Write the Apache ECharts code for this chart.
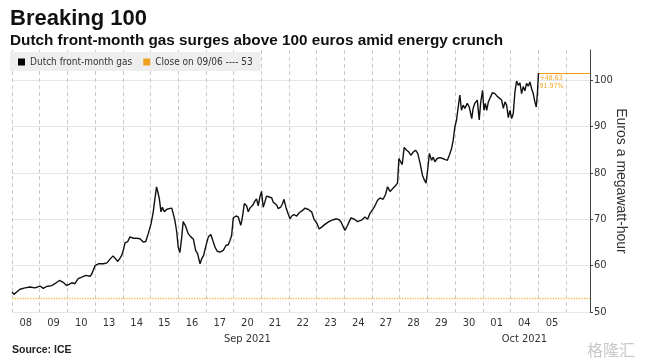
<!DOCTYPE html>
<html>
<head>
<meta charset="utf-8">
<script src="https://cdn.jsdelivr.net/npm/echarts@6/dist/echarts.min.js"></script>
<style>
html,body{margin:0;padding:0;background:#fff;}
#chart{width:648px;height:362px;}
</style>
</head>
<body>
<div id="chart"></div>
<script>
// ---- data ----
const dayLabels = ['08','09','10','13','14','15','16','17','20','21','22','23','24','27','28','29','30','01','04','05'];
const monthIndex = [8, 18];
const monthNames = ['Sep 2021', 'Oct 2021'];
// position in trading days since the start of 08 Sep
const tDay = [0.00,0.07,0.17,0.29,0.47,0.65,0.83,1.01,1.13,1.25,1.43,1.55,1.71,1.85,1.97,2.03,2.16,2.27,2.39,2.52,2.57,2.67,2.82,2.88,3.00,3.12,3.30,3.43,3.54,3.65,3.72,3.82,3.90,3.96,4.02,4.08,4.18,4.26,4.38,4.50,4.62,4.74,4.83,4.92,5.02,5.10,5.16,5.22,5.28,5.32,5.38,5.43,5.50,5.58,5.67,5.77,5.82,5.88,5.95,6.00,6.06,6.13,6.18,6.27,6.36,6.46,6.55,6.63,6.70,6.79,6.85,6.92,6.99,7.09,7.18,7.25,7.33,7.41,7.51,7.63,7.73,7.81,7.87,7.93,7.99,8.09,8.17,8.26,8.31,8.39,8.47,8.53,8.59,8.69,8.77,8.83,8.89,8.95,9.01,9.07,9.13,9.19,9.29,9.38,9.43,9.49,9.56,9.61,9.70,9.77,9.82,9.89,9.97,10.04,10.10,10.18,10.28,10.37,10.49,10.58,10.70,10.82,10.90,10.97,11.02,11.09,11.18,11.30,11.44,11.60,11.72,11.81,11.88,11.92,12.02,12.10,12.24,12.36,12.48,12.62,12.74,12.84,12.92,12.99,13.08,13.20,13.29,13.40,13.49,13.56,13.65,13.73,13.83,13.92,13.97,14.04,14.09,14.16,14.25,14.33,14.40,14.49,14.57,14.65,14.73,14.82,14.88,14.95,15.00,15.07,15.15,15.21,15.27,15.35,15.45,15.55,15.63,15.72,15.79,15.87,15.93,15.99,16.05,16.11,16.17,16.23,16.29,16.35,16.44,16.51,16.60,16.65,16.71,16.80,16.87,16.92,16.99,17.04,17.09,17.14,17.20,17.28,17.35,17.44,17.52,17.59,17.68,17.74,17.80,17.86,17.92,17.98,18.04,18.10,18.16,18.22,18.28,18.34,18.40,18.46,18.52,18.58,18.64,18.70,18.76,18.82,18.88,18.93,18.97,19.01];
const price = [54.3,53.8,54.3,54.9,55.2,55.4,55.2,55.6,55.1,55.5,55.7,56.1,56.8,56.4,55.7,55.5,56.3,56.1,57.2,57.5,57.2,57.9,57.7,58.2,60.0,60.4,60.4,60.6,61.4,62.1,61.7,60.9,61.6,62.2,63.3,64.9,65.2,66.2,65.9,65.9,65.8,65.1,65.2,66.9,69.0,71.6,74.4,77.0,75.5,74.4,71.6,72.6,71.6,72.1,72.3,72.4,72.3,69.8,67.2,64.0,62.8,66.2,69.5,68.5,66.9,66.2,65.7,63.3,62.6,60.4,61.5,62.2,64.0,66.2,66.7,65.4,64.0,63.1,62.9,63.3,64.4,64.5,65.4,66.5,70.3,70.7,70.5,68.7,70.1,73.4,72.9,71.6,72.4,73.0,73.9,74.4,72.9,74.8,76.0,72.6,73.7,75.0,74.8,74.6,73.7,74.1,73.0,72.3,72.6,73.4,74.3,72.6,71.2,70.1,70.7,71.0,70.7,71.4,71.9,72.4,72.1,71.6,70.1,69.8,69.0,67.9,68.3,68.9,69.5,69.9,70.1,69.9,69.4,69.8,67.6,68.5,70.3,70.0,69.5,69.8,70.5,70.0,71.2,70.8,72.6,74.1,74.6,74.3,75.4,77.0,76.0,76.5,77.1,77.8,83.1,83.4,81.8,85.5,84.9,84.5,83.8,84.5,84.9,84.2,82.2,79.5,78.6,77.8,80.2,84.2,82.7,83.4,82.4,83.1,83.3,83.1,82.9,82.7,83.8,85.2,87.0,89.9,91.4,91.2,96.8,93.5,94.6,93.9,95.0,94.2,91.7,93.9,95.0,95.7,91.4,95.0,97.8,93.5,95.0,93.5,95.3,96.4,97.3,97.1,96.5,96.3,95.7,93.9,95.3,94.6,91.9,93.5,91.7,92.8,97.5,99.8,98.9,99.4,97.1,98.6,97.7,99.3,98.7,99.6,98.2,97.1,95.3,94.2,97.1,101.51];
const refClose = 52.88;
const endLabels = ['+48.63', '91.97%'];
const seriesNames = ['Dutch front-month gas', 'Close on 09/06 ---- 53'];

// ---- chart ----
const X_MAX = 20.87;
const NARROW = '"Liberation Sans Narrow", "DejaVu Sans Condensed", "Roboto Condensed", "Liberation Sans", Arial, sans-serif';
const SANS = '"Liberation Sans", Arial, sans-serif';
const chart = echarts.init(document.getElementById('chart'), null, {renderer: 'canvas'});
const lineData = tDay.map((t, i) => [t, price[i]]);
const last = lineData[lineData.length - 1];

const xCommon = {
  type: 'value', min: 0, max: X_MAX, position: 'bottom',
  axisLine: {show: false}, axisTick: {show: false}
};

chart.setOption({
  animation: false,
  backgroundColor: '#fff',
  title: [
    {text: 'Breaking 100', left: 10, top: 8, padding: 0, textStyle: {fontFamily: SANS, fontWeight: 'bold', fontSize: 22, color: '#111'}},
    {text: 'Dutch front-month gas surges above 100 euros amid energy crunch', left: 10, top: 33, padding: 0, textStyle: {fontFamily: SANS, fontWeight: 'bold', fontSize: 15.3, color: '#111'}},
    {text: 'Source: ICE', left: 12, top: 345, padding: 0, textStyle: {fontFamily: SANS, fontWeight: 'bold', fontSize: 10.5, color: '#222'}},
    {text: '格隆汇', right: 8, top: 337, textStyle: {fontFamily: '"Noto Sans CJK SC", sans-serif', fontWeight: 'normal', fontSize: 16, color: '#c8c8c8'}}
  ],
  legend: {
    left: 10, top: 52,
    data: seriesNames,
    icon: 'rect', itemWidth: 7, itemHeight: 7, itemGap: 11,
    padding: [5, 8, 4, 8],
    backgroundColor: '#eeeeee',
    textStyle: {fontFamily: NARROW, fontSize: 10, color: '#333'},
    selectedMode: false
  },
  grid: {left: 12, right: 58, top: 50, bottom: 50, containLabel: false},
  xAxis: [
    Object.assign({}, xCommon, {
      interval: 1,
      splitLine: {show: true, lineStyle: {type: [4, 3], color: '#cccccc', width: 1}},
      axisLabel: {
        customValues: dayLabels.map((_, i) => i + 0.5),
        showMinLabel: true, showMaxLabel: true, hideOverlap: false,
        formatter: function (v) { return dayLabels[Math.floor(v)]; },
        fontFamily: NARROW, fontSize: 11, color: '#333', margin: 6
      }
    }),
    Object.assign({}, xCommon, {
      splitLine: {show: false},
      axisLabel: {
        customValues: monthIndex.map(i => i + 0.5),
        showMinLabel: true, showMaxLabel: true, hideOverlap: false,
        formatter: function (v) { return monthNames[monthIndex.indexOf(Math.floor(v))]; },
        fontFamily: NARROW, fontSize: 11, color: '#333', margin: 22
      }
    })
  ],
  yAxis: {
    type: 'value', position: 'right', min: 50, max: 106.5, interval: 10,
    axisLine: {show: true, onZero: false, lineStyle: {color: '#444'}},
    axisTick: {show: true, length: 3, lineStyle: {color: '#444'}},
    axisLabel: {fontFamily: NARROW, fontSize: 11, color: '#333', margin: 4, showMaxLabel: false},
    splitLine: {show: true, showMaxLine: false, lineStyle: {color: '#e6e6e6', width: 1}},
    name: 'Euros a megawatt-hour', nameLocation: 'middle', nameRotate: -90, nameGap: 24,
    nameMoveOverlap: false,
    nameTextStyle: {fontFamily: SANS, fontSize: 14, color: '#333'}
  },
  series: [
    {
      name: seriesNames[0], type: 'line', data: lineData, xAxisIndex: 0,
      color: '#000', showSymbol: false, symbol: 'none',
      lineStyle: {color: '#111', width: 1.4}, z: 5,
      markLine: {
        silent: true, symbol: 'none', animation: false,
        lineStyle: {color: '#f39c12', type: 'solid', width: 1.2, opacity: 1},
        emphasis: {disabled: true},
        label: {show: true, position: 'insideStartBottom', distance: 1, formatter: endLabels.join('\n'), color: '#f5a623', fontSize: 7, lineHeight: 8, fontFamily: NARROW},
        data: [[{coord: [last[0], last[1]]}, {coord: [X_MAX, last[1]]}]]
      }
    },
    {
      name: seriesNames[1], type: 'line', data: [], xAxisIndex: 0,
      color: '#f0a020',
      markLine: {
        silent: true, symbol: 'none', animation: false,
        lineStyle: {color: '#eec04a', type: 'dotted', width: 1.3},
        label: {show: false},
        data: [{yAxis: refClose}]
      }
    }
  ]
});
</script>
</body>
</html>
